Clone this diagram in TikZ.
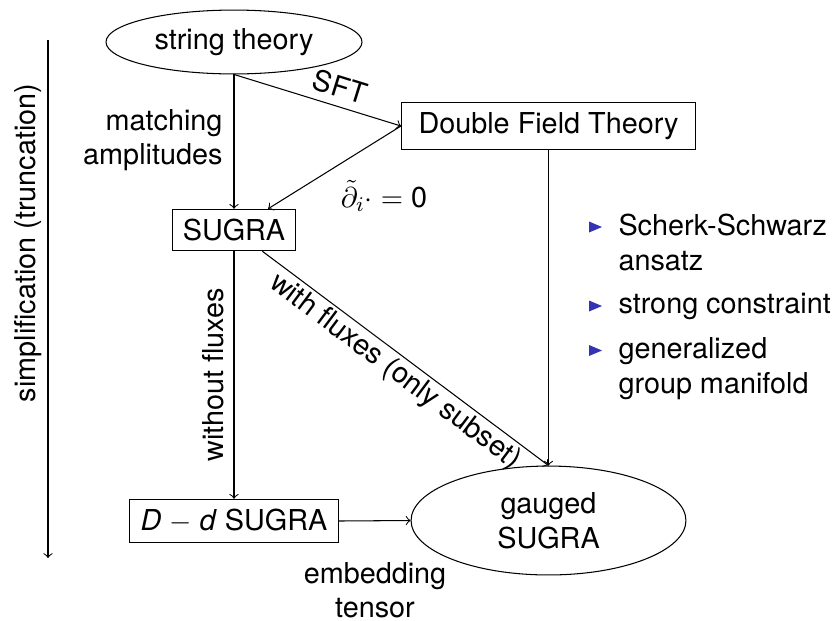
\documentclass[tikz,border=0pt]{standalone}
\usepackage{fontspec}
\setmainfont{TeX Gyre Heros}
\setsansfont{TeX Gyre Heros}
\usetikzlibrary{shapes.geometric}
\definecolor{bulblue}{RGB}{51,51,179}
\begin{document}
\begin{tikzpicture}[x=0.382pt,y=-0.382pt,
  every node/.style={font=\fontsize{11pt}{13.2pt}\selectfont},
  box/.style={draw, rectangle, inner sep=2pt},
  oval/.style={draw, ellipse, inner sep=0pt},
  lbl/.style={inner sep=0pt},
  arr/.style={->},
  bul/.style={fill=bulblue}]
\useasboundingbox (0,0) rectangle (836,620);
% nodes
\node[oval,minimum width=97.8pt,minimum height=24.4pt] (st) at (234,42) {string theory};
\node[box,minimum width=112.3pt,minimum height=17.6pt] (dft) at (548.5,126) {Double Field Theory};
\node[box,minimum width=47pt,minimum height=15.8pt] (sugra) at (234,230) {SUGRA};
\node[box,minimum width=79.8pt,minimum height=16.6pt] (dd) at (234,521) {\textit{D} $-$ \textit{d} SUGRA};
\node[oval,minimum width=105pt,minimum height=41.6pt,align=center] (gs) at (548.5,520.5) {gauged\\SUGRA};
% edges
\draw[arr] (st.south) -- (sugra.north);
\draw[arr] (st.south) -- (dft.west);
\draw[arr] (dft.west) -- (sugra);
\draw[arr] (dft.south) -- (gs.north);
\draw[arr] (sugra) -- (gs.north);
\draw[arr] (sugra.south) -- (dd.north);
\draw[arr] (dd.east) -- (gs.west);
% labels
\node[lbl,anchor=east,align=right] (ma) at (223,140) {matching\\amplitudes};
\node[lbl,rotate=-17.3] (sft) at (340,87) {SFT};
\node[lbl] (cond) at (384,196) {$\tilde{\partial}_i\cdot = \mbox{0}$};
\node[lbl,rotate=-36.8] (wf) at (395,372) {with fluxes (only subset)};
\node[lbl,rotate=90] (wo) at (213,375) {without fluxes};
\node[lbl,align=center] (emb) at (375,590) {embedding\\tensor};
% left arrow
\coordinate (t) at (48,40);
\coordinate (b) at (48,558);
\draw[arr] (t) -- (b);
\node[lbl,rotate=90] (simp) at (28,243) {simplification (truncation)};
% bullets
\fill[bul] (589,221.5) -- (602,227) -- (589,232.5) -- cycle;
\fill[bul] (589,300.5) -- (602,306) -- (589,311.5) -- cycle;
\fill[bul] (589,345) -- (602,350.5) -- (589,356) -- cycle;
\node[lbl,anchor=base west] (b1a) at (618,235) {Scherk-Schwarz};
\node[lbl,anchor=base west] (b1b) at (618,270) {ansatz};
\node[lbl,anchor=base west] (b2) at (618,313) {strong constraint};
\node[lbl,anchor=base west] (b3a) at (618,358) {generalized};
\node[lbl,anchor=base west] (b3b) at (618,393) {group manifold};
\end{tikzpicture}
\end{document}
